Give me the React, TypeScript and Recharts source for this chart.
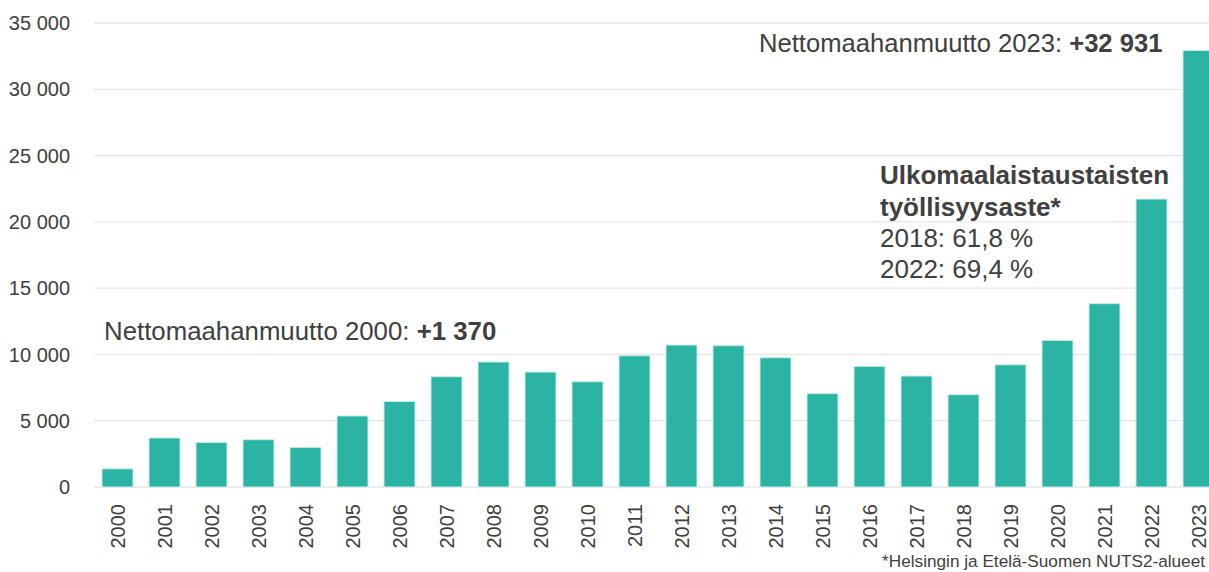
import React from 'react';
import { BarChart, Bar, XAxis, YAxis, CartesianGrid } from 'recharts';

const years = [
  '2000', '2001', '2002', '2003', '2004', '2005', '2006', '2007', '2008', '2009', '2010', '2011',
  '2012', '2013', '2014', '2015', '2016', '2017', '2018', '2019', '2020', '2021', '2022', '2023',
];
const netMigration = [
  1370, 3700, 3360, 3570, 2990, 5360, 6450, 8320, 9430, 8670, 7940, 9900,
  10710, 10660, 9750, 7040, 9100, 8370, 6960, 9220, 11060, 13830, 21720, 32931,
];
const yTicks = [0, 5000, 10000, 15000, 20000, 25000, 30000, 35000];

const FONT = '"Liberation Sans", Arial, sans-serif';
const TEXT = '#404040';
const TEAL = '#2bb3a3';

const fmt = (v: number) => v.toString().replace(/\B(?=(\d{3})+(?!\d))/g, ' ');

const YearTick = (props: any) => {
  const { x, y, payload } = props;
  return (
    <text
      x={x}
      y={y}
      dy="0.36em"
      textAnchor="end"
      transform={`rotate(-90, ${x}, ${y})`}
      fill={TEXT}
      fontSize={20}
      fontFamily={FONT}
    >
      {payload.value}
    </text>
  );
};

const App: React.FC = () => {
  const data = years.map((year, i) => ({ year, value: netMigration[i] }));

  return (
    <div style={{ position: 'absolute', left: 0, top: 0, width: 1209, height: 572, overflow: 'hidden', background: '#fff' }}>
      <BarChart
        width={1222}
        height={572}
        data={data}
        margin={{ top: 23, right: 0, left: 0, bottom: 0 }}
      >
        <CartesianGrid vertical={false} stroke="#e6e6e6" strokeWidth={1.3} />
        <XAxis
          dataKey="year"
          axisLine={false}
          tickLine={false}
          tickSize={0}
          tickMargin={17}
          height={85}
          interval={0}
          tick={<YearTick />}
        />
        <YAxis
          domain={[0, 35000]}
          ticks={yTicks}
          axisLine={false}
          tickLine={false}
          tickSize={0}
          tickMargin={24}
          width={94}
          tickFormatter={fmt}
          tick={{ fill: TEXT, fontSize: 20, fontFamily: FONT }}
        />
        <Bar dataKey="value" fill={TEAL} stroke="#c9ece7" strokeWidth={1} barSize={31} isAnimationActive={false} />
      </BarChart>

      <svg
        width={1209}
        height={572}
        style={{ position: 'absolute', left: 0, top: 0, pointerEvents: 'none' }}
        fontFamily={FONT}
        fill={TEXT}
      >
        <text x={104} y={340} fontSize={25.8}>
          Nettomaahanmuutto 2000: <tspan fontWeight="bold">+1 370</tspan>
        </text>
        <text x={759} y={51.5} fontSize={25.6}>
          Nettomaahanmuutto 2023: <tspan fontWeight="bold">+32 931</tspan>
        </text>
        <text x={880} y={184} fontSize={26} fontWeight="bold">Ulkomaalaistaustaisten</text>
        <text x={880} y={215.5} fontSize={26} fontWeight="bold">työllisyysaste*</text>
        <text x={880} y={246.5} fontSize={26}>2018: 61,8 %</text>
        <text x={880} y={277.5} fontSize={26}>2022: 69,4 %</text>
        <text x={1205} y={567} fontSize={17.2} textAnchor="end">*Helsingin ja Etelä-Suomen NUTS2-alueet</text>
      </svg>
    </div>
  );
};

export default App;
